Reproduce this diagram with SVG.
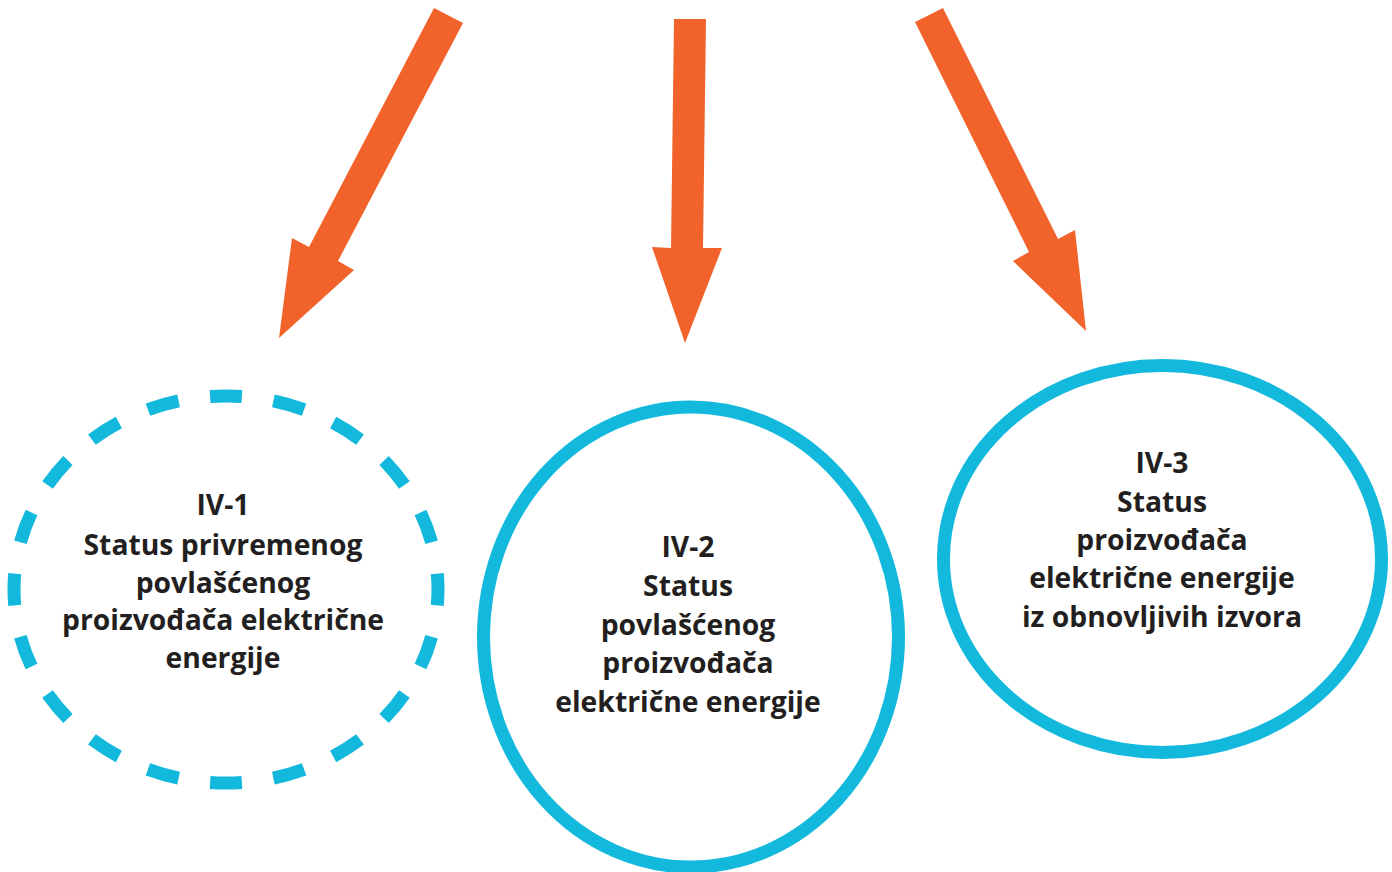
<svg xmlns="http://www.w3.org/2000/svg" width="1392" height="872" viewBox="0 0 1392 872">
<style>
.arrow{fill:#f2632b;stroke:none}
.ring{fill:none;stroke:#13b9dd;stroke-width:13}
.dashed{stroke-dasharray:25 25;stroke-dashoffset:12.5}
.lbl{font-family:"Open Sans","Noto Sans","Liberation Sans",sans-serif;font-weight:700;font-size:28.3px;fill:#231f20;text-anchor:middle}
</style>
<rect width="1392" height="872" fill="#ffffff"/>
<g id="connectors">
<polygon class="arrow" points="434,8 463,23 338,261 354,270 279,338 292,238 309,247"/>
<polygon class="arrow" points="674,19 706,19 703,248 722,248 685,343 652,247 671,248"/>
<polygon class="arrow" points="915,22 943,8 1058,239 1075,230 1086,331 1013,261 1029,252"/>
</g>
<g id="node-iv1">
<ellipse class="ring dashed" cx="226" cy="589.5" rx="212" ry="193.5" pathLength="1000" stroke-width="12"/>
<text class="lbl"><tspan x="223" y="515">IV-1</tspan><tspan x="223" y="555">Status privremenog</tspan><tspan x="223" y="593">povlašćenog</tspan><tspan x="223" y="630">proizvođača električne</tspan><tspan x="223" y="668">energije</tspan></text>
</g>
<g id="node-iv2">
<ellipse class="ring" cx="691" cy="637" rx="207.5" ry="230"/>
<text class="lbl"><tspan x="688" y="557">IV-2</tspan><tspan x="688" y="596">Status</tspan><tspan x="688" y="635">povlašćenog</tspan><tspan x="688" y="673">proizvođača</tspan><tspan x="688" y="712">električne energije</tspan></text>
</g>
<g id="node-iv3">
<ellipse class="ring" cx="1162.5" cy="559" rx="219" ry="193.5"/>
<text class="lbl"><tspan x="1162" y="473">IV-3</tspan><tspan x="1162" y="512">Status</tspan><tspan x="1162" y="550">proizvođača</tspan><tspan x="1162" y="588">električne energije</tspan><tspan x="1162" y="627">iz obnovljivih izvora</tspan></text>
</g>
</svg>
